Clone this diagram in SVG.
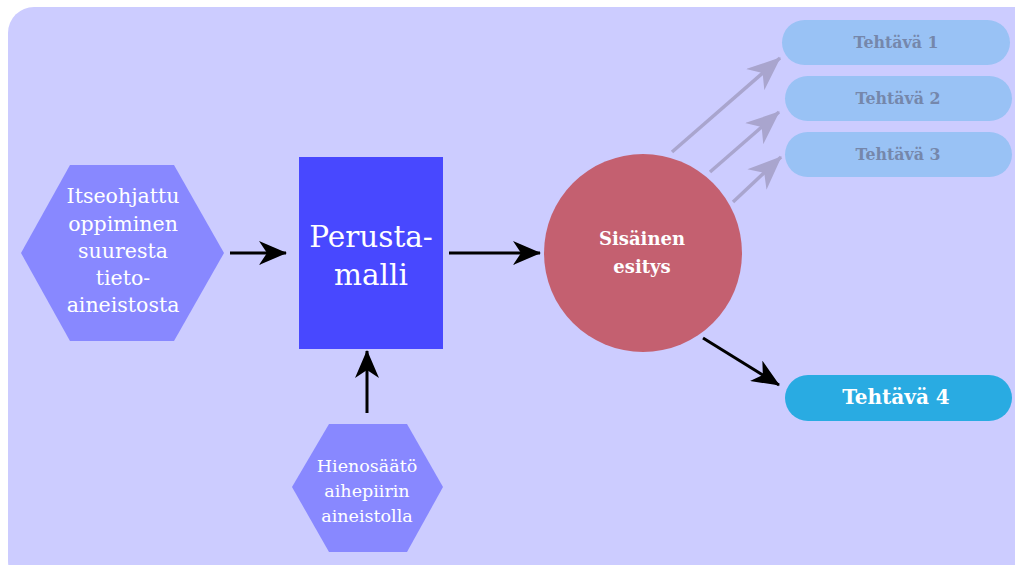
<svg xmlns="http://www.w3.org/2000/svg" width="1015" height="565" viewBox="0 0 1015 565">
<style>
.t{font-family:"DejaVu Serif","Liberation Serif",serif;text-anchor:middle;}
.w{fill:#ffffff;}
.line{stroke:#000;stroke-width:3;fill:none;}
.gline{stroke:#A9A5CE;stroke-width:3.5;fill:none;}
.task{fill:#99C2F5;}
.tt{fill:#7587AB;font-size:15.8px;font-weight:bold;}
</style>
<defs>
<marker id="ah" viewBox="0 0 28 24" refX="27" refY="12" markerWidth="28" markerHeight="24" markerUnits="userSpaceOnUse" orient="auto">
<path d="M0,0 L28,12 L0,24 L8,12 Z" fill="#000"/>
</marker>
<marker id="ahg" viewBox="0 0 34 28" refX="33" refY="14" markerWidth="34" markerHeight="28" markerUnits="userSpaceOnUse" orient="auto">
<path d="M0,0 L34,14 L0,28 L10,14 Z" fill="#A9A5CE"/>
</marker>
</defs>
<rect x="8" y="7" width="1040" height="580" rx="26" fill="#CCCCFF"/>
<g id="connectors">
<line class="line" x1="230" y1="253" x2="286" y2="253" marker-end="url(#ah)"/>
<line class="line" x1="449" y1="253" x2="540" y2="253" marker-end="url(#ah)"/>
<line class="line" x1="367" y1="413" x2="367" y2="351" marker-end="url(#ah)"/>
<line class="line" x1="703" y1="338" x2="779" y2="385" marker-end="url(#ah)"/>
<line class="gline" x1="672" y1="152" x2="780" y2="58" marker-end="url(#ahg)"/>
<line class="gline" x1="710" y1="172" x2="779" y2="112" marker-end="url(#ahg)"/>
<line class="gline" x1="733" y1="202" x2="781" y2="157" marker-end="url(#ahg)"/>
</g>
<g id="node-itseohjattu">
<polygon points="70,165 174,165 224,253 174,341 70,341 21,253" fill="#8888FF"/>
<g class="t w" font-size="20.5">
<text x="123" y="203">Itseohjattu</text>
<text x="123" y="231">oppiminen</text>
<text x="123" y="258">suuresta</text>
<text x="123" y="285">tieto-</text>
<text x="123" y="312">aineistosta</text>
</g>
</g>
<g id="node-perustamalli">
<rect x="299" y="157" width="144" height="192" fill="#4848FF"/>
<g class="t w" font-size="29.5">
<text x="371" y="247">Perusta-</text>
<text x="371" y="285">malli</text>
</g>
</g>
<g id="node-hienosaato">
<polygon points="329,424 407,424 443,487 407,552 329,552 292,487" fill="#8888FF"/>
<g class="t w" font-size="17.5">
<text x="367" y="472">Hienosäätö</text>
<text x="367" y="497">aihepiirin</text>
<text x="367" y="522">aineistolla</text>
</g>
</g>
<g id="node-sisainen">
<circle cx="643" cy="253" r="99" fill="#C46070"/>
<g class="t w" font-size="18" font-weight="bold">
<text x="642" y="245">Sisäinen</text>
<text x="642" y="273">esitys</text>
</g>
</g>
<g id="node-tehtava1">
<rect class="task" x="782" y="20" width="228" height="45" rx="22.5"/>
<text class="t tt" x="896" y="48">Tehtävä 1</text>
</g>
<g id="node-tehtava2">
<rect class="task" x="785" y="76" width="227" height="45" rx="22.5"/>
<text class="t tt" x="898" y="104">Tehtävä 2</text>
</g>
<g id="node-tehtava3">
<rect class="task" x="785" y="132" width="227" height="45" rx="22.5"/>
<text class="t tt" x="898" y="160">Tehtävä 3</text>
</g>
<g id="node-tehtava4">
<rect x="785" y="375" width="227" height="46" rx="23" fill="#29ABE2"/>
<text class="t w" x="896" y="404" font-size="20" font-weight="bold">Tehtävä 4</text>
</g>
</svg>
